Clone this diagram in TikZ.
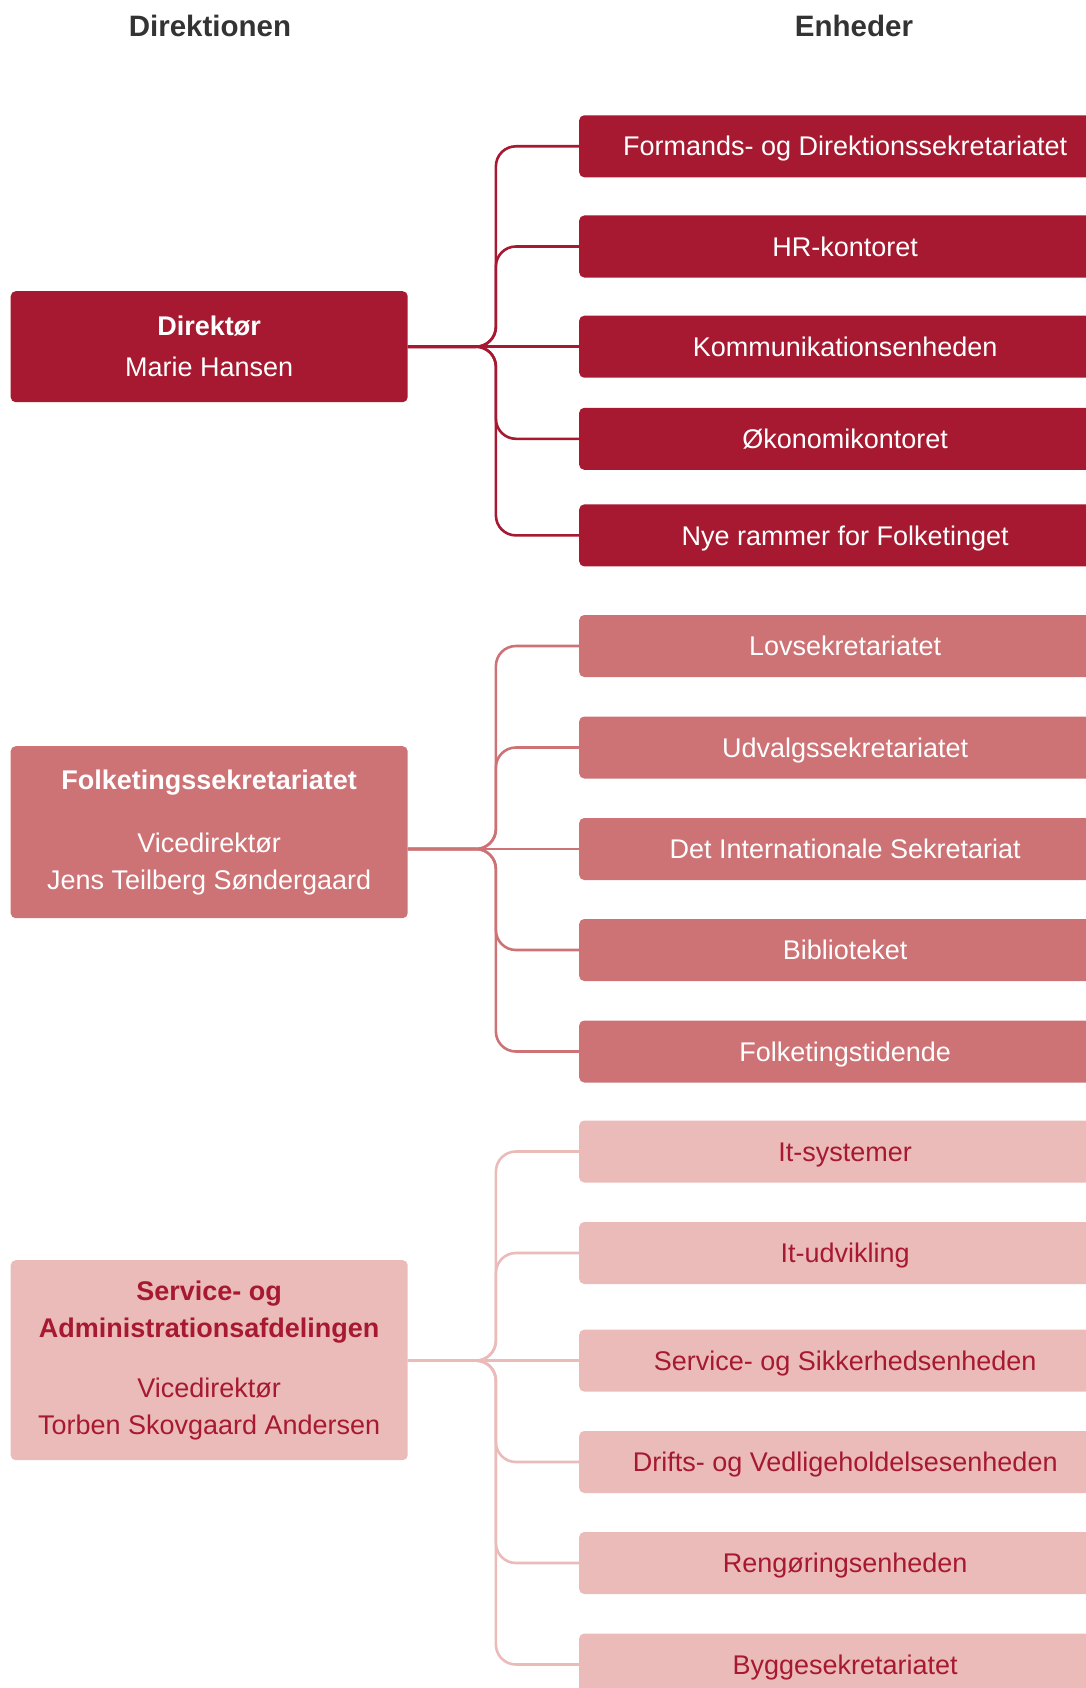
\documentclass[tikz,border=0pt]{standalone}
\usepackage{fontspec}
\setmainfont{Liberation Sans}
\definecolor{ftred}{HTML}{A61930}
\definecolor{ftmid}{HTML}{CD7275}
\definecolor{ftlight}{HTML}{EBBBBA}
\definecolor{headgray}{HTML}{333333}

\begin{document}
\begin{tikzpicture}[x=1pt,y=-1pt,
  heading/.style={font=\fontsize{29.5}{34}\selectfont\bfseries, text=headgray},
  leader/.style={rounded corners=5pt, minimum width=397pt, inner sep=0pt, align=center, anchor=north west, font=\fontsize{27}{37}\selectfont},
  unit/.style={rounded corners=5pt, minimum width=532pt, minimum height=62pt, inner sep=0pt, anchor=west, text height=19.3pt, text depth=0pt, font=\fontsize{27}{37}\selectfont},
  link/.style={line width=2.6pt, rounded corners=20pt}]
\useasboundingbox (0,0) rectangle (1086,1688);
\clip (0,0) rectangle (1086,1688); % the unit boxes run off the right edge

\node [heading] (hdir) at (210,26) {Direktionen};
\node [heading] (henh) at (854,26) {Enheder};

% Direktionen
\node [leader, fill=ftred, text=white, minimum height=111pt] (dir) at (10.5,291)
  {\bfseries Direktør\\[4pt] Marie Hansen};
\node [leader, fill=ftmid, text=white, minimum height=172pt] (fs) at (10.5,746)
  {\bfseries Folketingssekretariatet\\[26pt] Vicedirektør\\ Jens Teilberg Søndergaard};
\node [leader, fill=ftlight, text=ftred, minimum height=200pt] (sa) at (10.5,1260)
  {\bfseries Service- og\\ \bfseries Administrationsafdelingen\\[23pt] Vicedirektør\\ Torben Skovgaard Andersen};

% Enheder
\foreach \y/\name/\txt in {146.3/d1/{Formands- og Direktionssekretariatet}, 246.5/d2/HR-kontoret,
    346.7/d3/Kommunikationsenheden, 438.8/d4/Økonomikontoret, 535.4/d5/Nye rammer for Folketinget}
  \node [unit, fill=ftred, text=white] (\name) at (579,\y) {\txt};
\foreach \y/\name/\txt in {646/f1/Lovsekretariatet, 747.5/f2/Udvalgssekretariatet,
    849/f3/Det Internationale Sekretariat, 950/f4/Biblioteket, 1051.5/f5/Folketingstidende}
  \node [unit, fill=ftmid, text=white] (\name) at (579,\y) {\txt};
\foreach \y/\name/\txt in {1151.5/s1/It-systemer, 1253/s2/It-udvikling, 1360.6/s3/Service- og Sikkerhedsenheden,
    1462/s4/Drifts- og Vedligeholdelsesenheden, 1563/s5/Rengøringsenheden, 1664.5/s6/Byggesekretariatet}
  \node [unit, fill=ftlight, text=ftred] (\name) at (579,\y) {\txt};

% connectors
\foreach \c in {d1,d2,d4,d5}
  \draw [link, ftred] (dir.east |- d3.west) -- ++(88,0) |- (\c.west);
\draw [link, ftred] (dir.east |- d3.west) -- (d3.west);
\foreach \c in {f1,f2,f4,f5}
  \draw [link, ftmid] (fs.east |- f3.west) -- ++(88,0) |- (\c.west);
\draw [link, ftmid] (fs.east |- f3.west) -- (f3.west);
\foreach \c in {s1,s2,s4,s5,s6}
  \draw [link, ftlight] (sa.east |- s3.west) -- ++(88,0) |- (\c.west);
\draw [link, ftlight] (sa.east |- s3.west) -- (s3.west);
\end{tikzpicture}
\end{document}
